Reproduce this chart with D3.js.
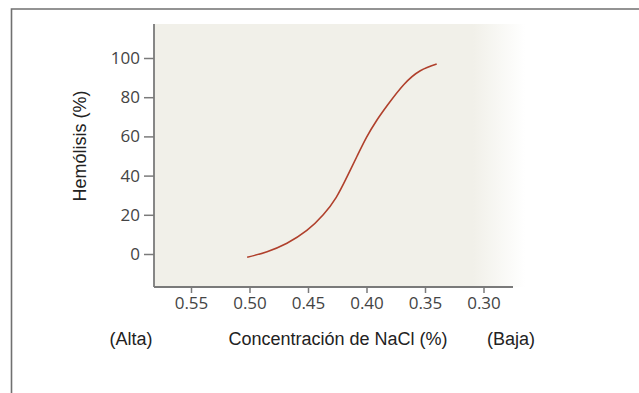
<!DOCTYPE html>
<html>
<head>
<meta charset="utf-8">
<script src="https://cdn.jsdelivr.net/npm/d3@7"></script>
<style>
  html, body { margin: 0; padding: 0; background: #fff; }
  svg { display: block; }
</style>
</head>
<body>
<svg id="chart" width="639" height="393"></svg>
<script>
// Osmotic fragility curve: % hemolysis against NaCl concentration
const nacl = [0.502, 0.485, 0.468, 0.451, 0.437, 0.426, 0.417, 0.408, 0.400, 0.392, 0.382, 0.368, 0.354, 0.340];
const hemolysis = [-1.7, 1.2, 5.5, 12.0, 20.0, 28.8, 39.0, 50.0, 59.5, 67.5, 76.0, 86.5, 93.5, 96.9];
const xTicks = [0.55, 0.50, 0.45, 0.40, 0.35, 0.30];
const yTicks = [0, 20, 40, 60, 80, 100];

const svg = d3.select("#chart");

// Concentration decreases to the right
const x = d3.scaleLinear().domain([0.55, 0.30]).range([191, 483.5]);
const y = d3.scaleLinear().domain([0, 100]).range([254, 58]);

const plotLeft = 154, plotRight = 513, plotTop = 24, plotBottom = 287;

// Outer frame (top and left edges)
svg.append("path")
  .attr("d", `M11.5,393 V9 H639`)
  .attr("fill", "none")
  .attr("stroke", "#707070")
  .attr("stroke-width", 1.6);

// Plot background with soft fade on the right
const defs = svg.append("defs");
const grad = defs.append("linearGradient").attr("id", "bgfade")
  .attr("x1", 0).attr("x2", 1).attr("y1", 0).attr("y2", 0);
grad.append("stop").attr("offset", "0%").attr("stop-color", "#f1f0e9");
grad.append("stop").attr("offset", "86%").attr("stop-color", "#f1f0e9");
grad.append("stop").attr("offset", "100%").attr("stop-color", "#ffffff");
svg.append("rect")
  .attr("x", plotLeft).attr("y", plotTop)
  .attr("width", plotRight + 12 - plotLeft).attr("height", plotBottom - plotTop)
  .attr("fill", "url(#bgfade)");

// Curve
const line = d3.line()
  .x((d, i) => x(nacl[i]))
  .y((d, i) => y(hemolysis[i]))
  .curve(d3.curveNatural);
svg.append("path")
  .datum(nacl)
  .attr("d", line)
  .attr("fill", "none")
  .attr("stroke", "#b0402c")
  .attr("stroke-width", 1.6);

// Axes
const tickFont = "'Open Sans', sans-serif";
const yAxis = svg.append("g")
  .attr("transform", `translate(${plotLeft},0)`)
  .call(d3.axisLeft(y).tickValues(yTicks).tickSize(10).tickSizeOuter(0).tickPadding(4));
yAxis.select(".domain").attr("d", `M0,${plotTop}V${plotBottom}`);

const xAxis = svg.append("g")
  .attr("transform", `translate(0,${plotBottom})`)
  .call(d3.axisBottom(x).tickValues(xTicks).tickFormat(d3.format(".2f")).tickSize(6).tickSizeOuter(0).tickPadding(4));
xAxis.select(".domain").attr("d", `M${plotLeft},0H${plotRight}`);

[yAxis, xAxis].forEach(g => {
  g.select(".domain").attr("stroke", "#7a7a7a").attr("stroke-width", 1.8);
  g.selectAll(".tick line").attr("stroke", "#7a7a7a").attr("stroke-width", 1.5);
  g.selectAll(".tick text")
    .attr("fill", "#444")
    .style("font-family", tickFont)
    .style("font-size", "17px");
});

// Axis titles
const titleFont = "'Liberation Sans', Arial, sans-serif";
svg.append("text")
  .attr("transform", "translate(86,146) rotate(-90)")
  .attr("text-anchor", "middle")
  .style("font-family", titleFont).style("font-size", "18px")
  .attr("fill", "#222")
  .text("Hemólisis (%)");

const xTitles = [
  { text: "(Alta)", cx: 131 },
  { text: "Concentración de NaCl (%)", cx: 338 },
  { text: "(Baja)", cx: 511 }
];
svg.selectAll("text.xtitle")
  .data(xTitles)
  .join("text")
  .attr("class", "xtitle")
  .attr("x", d => d.cx).attr("y", 345)
  .attr("text-anchor", "middle")
  .style("font-family", titleFont).style("font-size", "18px")
  .attr("fill", "#222")
  .text(d => d.text);
</script>
</body>
</html>
